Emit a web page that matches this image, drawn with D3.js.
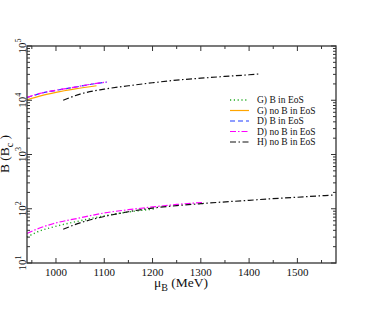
<!DOCTYPE html>
<html><head><meta charset="utf-8">
<script src="https://cdn.jsdelivr.net/npm/d3@7"></script>
<style>body{margin:0;background:#fff}svg{display:block}</style>
</head><body>
<svg id="c" width="381" height="310"></svg>
<script>
// ---- data ----
const xTicks = [1000,1100,1200,1300,1400,1500];
const yTicks = [1,2,3,4,5]; // exponents 10^n
const legendLabels = ["G) B in EoS","G) no B in EoS","D) B in EoS","D) no B in EoS","H) no B in EoS"];
// upper branch
const G_noB_up_mu = [940,970,1000,1040,1084];
const G_noB_up_B  = [1.02e4,1.22e4,1.4e4,1.62e4,1.85e4];
const D_B_up_mu   = [940,967,1000,1036,1070,1105];
const D_B_up_B    = [1.12e4,1.33e4,1.52e4,1.72e4,1.95e4,2.16e4];
const D_noB_up_mu = [940,967,1000,1036,1070,1105];
const D_noB_up_B  = [1.13e4,1.34e4,1.53e4,1.73e4,1.96e4,2.17e4];
const H_noB_up_mu = [1015,1050,1100,1150,1200,1250,1300,1350,1400,1420];
const H_noB_up_B  = [1.0e4,1.3e4,1.6e4,1.85e4,2.1e4,2.35e4,2.55e4,2.75e4,2.95e4,3.05e4];
// lower branch
const D_noB_lo_mu = [940,960,994,1050,1098,1150,1201,1250,1305];
const D_noB_lo_B  = [35,42,53,68,83,96,108,120,131];
const G_B_lo_mu   = [940,960,994,1050,1100,1150,1208];
const G_B_lo_B    = [30,37,46,60,74,87,100];
const H_noB_lo_mu = [1015,1050,1100,1150,1200,1250,1300,1340,1400,1436,1500,1578];
const H_noB_lo_B  = [42,55,72,88,103,114,124,132,143,151,163,180];

const styles = [
  {color:"#22aa22", dash:"1.2,2.6", w:1.4},
  {color:"#ffa500", dash:null, w:1.2},
  {color:"#1f3cff", dash:"5,3", w:1.2},
  {color:"#ff00ff", dash:"6,2,1.5,2", w:1.2},
  {color:"#111111", dash:"6,2.5,1.5,2.5", w:1.2}
];
const curves = [
  {mu:G_noB_up_mu, B:G_noB_up_B, s:1},
  {mu:D_B_up_mu, B:D_B_up_B, s:2},
  {mu:D_noB_up_mu, B:D_noB_up_B, s:3},
  {mu:H_noB_up_mu, B:H_noB_up_B, s:4},
  {mu:G_B_lo_mu, B:G_B_lo_B, s:0},
  {mu:D_noB_lo_mu, B:D_noB_lo_B, s:3},
  {mu:H_noB_lo_mu, B:H_noB_lo_B, s:4}
];

const L=27, R=336, T=46, Bm=263;
const x = d3.scaleLinear().domain([940,1580]).range([L,R]);
const y = d3.scaleLog().domain([10,1e5]).range([Bm,T]);
const svg = d3.select("#c");
const font = "'Liberation Serif','Times New Roman',serif";

// curves
const line = d3.line().curve(d3.curveMonotoneX);
curves.forEach(c=>{
  const st = styles[c.s];
  const pts = c.mu.map((m,i)=>[x(m), y(c.B[i])]);
  svg.append("path").attr("d", line(pts)).attr("fill","none")
    .attr("stroke", st.color).attr("stroke-width", st.w)
    .attr("stroke-dasharray", st.dash);
});

// frame
const ax = "#333";
svg.append("rect").attr("x",L).attr("y",T).attr("width",R-L).attr("height",Bm-T)
  .attr("fill","none").attr("stroke",ax).attr("stroke-width",1.3);

// x ticks (bottom and top, inward)
const xMinor = d3.range(950,1580,50).filter(v=>!xTicks.includes(v));
const g = svg.append("g").attr("stroke",ax).attr("stroke-width",1);
xTicks.forEach(v=>{
  g.append("line").attr("x1",x(v)).attr("x2",x(v)).attr("y1",Bm).attr("y2",Bm-5);
  g.append("line").attr("x1",x(v)).attr("x2",x(v)).attr("y1",T).attr("y2",T+5);
});
xMinor.forEach(v=>{
  g.append("line").attr("x1",x(v)).attr("x2",x(v)).attr("y1",Bm).attr("y2",Bm-3);
  g.append("line").attr("x1",x(v)).attr("x2",x(v)).attr("y1",T).attr("y2",T+3);
});
// y ticks
yTicks.forEach(e=>{
  const yy = y(Math.pow(10,e));
  g.append("line").attr("x1",L).attr("x2",L+5).attr("y1",yy).attr("y2",yy);
  g.append("line").attr("x1",R).attr("x2",R-5).attr("y1",yy).attr("y2",yy);
  if(e<5){
    for(let k=2;k<=9;k++){
      const ym = y(k*Math.pow(10,e));
      g.append("line").attr("x1",L).attr("x2",L+3).attr("y1",ym).attr("y2",ym);
      g.append("line").attr("x1",R).attr("x2",R-3).attr("y1",ym).attr("y2",ym);
    }
  }
});

// x tick labels
xTicks.forEach(v=>{
  svg.append("text").attr("x",x(v)).attr("y",275.5).attr("text-anchor","middle")
    .attr("font-family",font).attr("font-size",11).attr("fill","#111").text(v);
});
// y tick labels (rotated)
yTicks.forEach(e=>{
  const yy = y(Math.pow(10,e));
  const t = svg.append("text").attr("transform",`translate(25.5,${yy}) rotate(-90)`)
    .attr("text-anchor","middle").attr("font-family",font).attr("font-size",11).attr("fill","#111");
  t.append("tspan").text("10");
  t.append("tspan").attr("dy",-4.5).attr("font-size",8).text(e);
});

// axis titles
const xt = svg.append("text").attr("x",181).attr("y",287).attr("text-anchor","middle")
  .attr("font-family",font).attr("font-size",13.5).attr("fill","#111");
xt.append("tspan").text("μ");
xt.append("tspan").attr("dy",4).attr("font-size",10).text("B");
xt.append("tspan").attr("dy",-4).text(" (MeV)");

const yt = svg.append("text").attr("transform",`translate(9,154) rotate(-90)`).attr("text-anchor","middle")
  .attr("font-family",font).attr("font-size",13.5).attr("fill","#111");
yt.append("tspan").text("B (B");
yt.append("tspan").attr("dy",4).attr("font-size",10).text("c");
yt.append("tspan").attr("dy",-4).text(" )");

// legend
legendLabels.forEach((lab,i)=>{
  const st = styles[i];
  const ly = 100 + i*10.5;
  svg.append("line").attr("x1",230).attr("x2",249).attr("y1",ly).attr("y2",ly)
    .attr("stroke",st.color).attr("stroke-width",st.w).attr("stroke-dasharray",st.dash);
  svg.append("text").attr("x",257).attr("y",ly+3.3).attr("font-family",font)
    .attr("font-size",9.5).attr("fill","#111").text(lab);
});
</script>
</body></html>
